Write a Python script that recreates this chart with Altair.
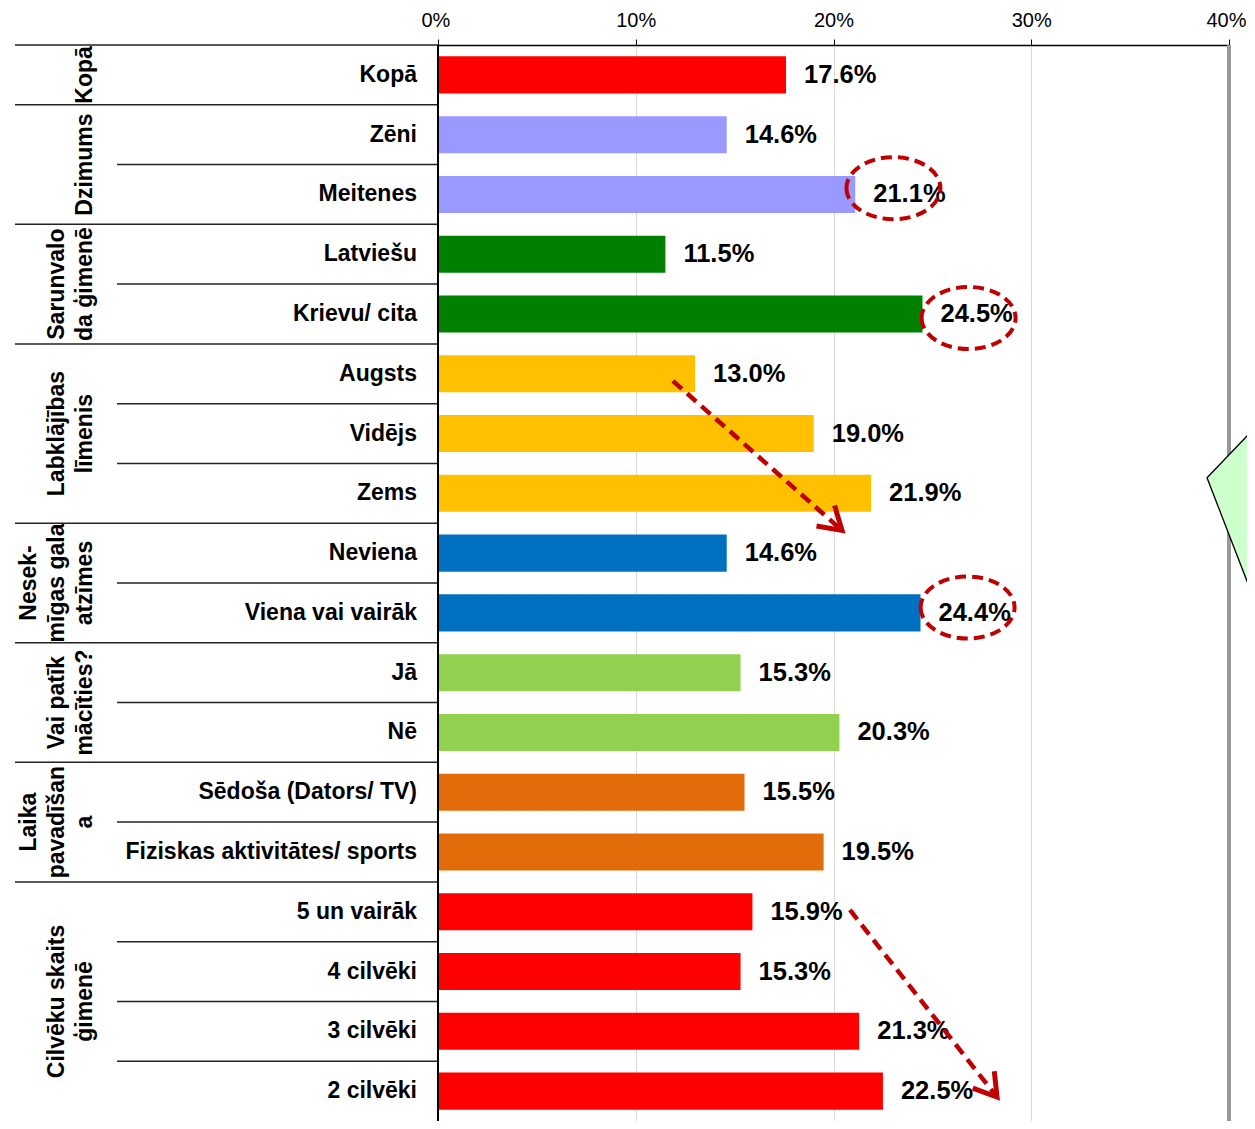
import altair as alt
import pandas as pd

# ---------------- data ----------------
categories = ["Kopā", "Zēni", "Meitenes", "Latviešu", "Krievu/ cita", "Augsts", "Vidējs", "Zems",
              "Neviena", "Viena vai vairāk", "Jā", "Nē", "Sēdoša (Dators/ TV)",
              "Fiziskas aktivitātes/ sports", "5 un vairāk", "4 cilvēki", "3 cilvēki", "2 cilvēki"]
values = [17.6, 14.6, 21.1, 11.5, 24.5, 13.0, 19.0, 21.9, 14.6, 24.4, 15.3, 20.3, 15.5, 19.5,
          15.9, 15.3, 21.3, 22.5]
group_of_row = [0, 1, 1, 2, 2, 3, 3, 3, 4, 4, 5, 5, 6, 6, 7, 7, 7, 7]
group_titles = [["Kopā"], ["Dzimums"], ["Sarunvalo", "da ģimenē"], ["Labklājības", "līmenis"],
                ["Nesek-", "mīgas gala", "atzīmes"], ["Vai patīk", "mācīties?"],
                ["Laika", "pavadīšan", "a"], ["Cilvēku skaits", "ģimenē"]]
group_colors = ["#FF0000", "#9999FF", "#008000", "#FFC000", "#0070C0", "#92D050", "#E36C0A", "#FF0000"]
x_ticks = [0, 10, 20, 30, 40]

# annotations (in data units: x in %, y in rows)
ellipse_x = [23.03, 26.83, 26.78]
ellipse_y = [2.395, 4.567, 9.41]
arrow_x0 = [11.88, 20.83]
arrow_y0 = [5.62, 14.47]
arrow_x1 = [20.43, 28.27]
arrow_y1 = [8.12, 17.60]
arrow_angle = [41.6, 52.1]
poly_x = [38.89, 42.5]
poly_ytop = [7.24, 5.99]
poly_ybot = [7.24, 10.33]

FONT = "Liberation Sans, Arial, sans-serif"
W, H = 791, 1076
NROWS = len(categories)
PX_PER_UNIT = W / 40.0

# ---------------- tables ----------------
bars = pd.DataFrame({
    "row": list(range(NROWS)),
    "cat": categories,
    "val": values,
    "color": [group_colors[g] for g in group_of_row],
})
bars["y0"] = bars["row"] + 0.19
bars["y1"] = bars["row"] + 0.81
bars["ym"] = bars["row"] + 0.5
bars["lbl"] = [f"{v:.1f}%" for v in values]

gl_rows = []
full_lines = [0]
for g, lines in enumerate(group_titles):
    rows = [i for i, gg in enumerate(group_of_row) if gg == g]
    start, end = rows[0], rows[-1] + 1
    full_lines.append(end)
    n = len(lines)
    for k, t in enumerate(lines):
        gl_rows.append({"text": t, "ym": (start + end) / 2,
                        "gx": (-353 - 28 * (n - 1 - k)) / PX_PER_UNIT})
glabels = pd.DataFrame(gl_rows)
partial_lines = [i for i in range(1, NROWS) if i not in full_lines]
full_df = pd.DataFrame({"y": [v for v in full_lines if v < NROWS]})
part_df = pd.DataFrame({"y": partial_lines})

ell_df = pd.DataFrame({"x": ellipse_x, "y": ellipse_y})
arr_df = pd.DataFrame({
    "id": [0, 0, 1, 1],
    "k": [0, 1, 0, 1],
    "x": [arrow_x0[0], arrow_x1[0], arrow_x0[1], arrow_x1[1]],
    "y": [arrow_y0[0], arrow_y1[0], arrow_y0[1], arrow_y1[1]],
})
head_df = pd.DataFrame({"x": arrow_x1, "y": arrow_y1, "ang": arrow_angle})
poly_df = pd.DataFrame({"x": poly_x, "y": poly_ytop, "y2": poly_ybot})

xs = alt.Scale(domain=[0, 40], nice=False, zero=True)
ys = alt.Scale(domain=[0, NROWS], reverse=True, nice=False, zero=False)
xaxis = alt.Axis(
    orient="top", values=x_ticks, labelExpr="datum.value + '%'", title=None,
    grid=True, gridColor="#D9D9D9", gridWidth=1,
    domainColor="#000000", domainWidth=1.5, tickColor="#000000", tickSize=6, tickWidth=1,
    labelFont="Liberation Sans Narrow, Arial Narrow, Liberation Sans", labelFontSize=20,
    labelColor="#000000", labelPadding=9, labelFlush=True, labelFlushOffset=17,
    labelOverlap=False)


def X(field):
    return alt.X(field, type="quantitative", scale=xs, axis=xaxis)


def Y(field):
    return alt.Y(field, type="quantitative", scale=ys, axis=None)


# ---------------- layers ----------------
bar_layer = alt.Chart(bars).mark_bar(cornerRadius=0).encode(
    x=X("val"), x2=alt.value(0), y=Y("y0"), y2="y1:Q",
    color=alt.Color("color:N", scale=None),
)

value_text = alt.Chart(bars).mark_text(
    align="left", baseline="middle", dx=18, font=FONT, fontSize=25.5, fontWeight="bold", color="#000000"
).encode(x=X("val"), y=Y("ym"), text="lbl:N")

cat_text = alt.Chart(bars).mark_text(
    align="right", baseline="middle", font=FONT, fontSize=23, fontWeight="bold", color="#000000"
).encode(x=alt.value(-21), y=Y("ym"), text="cat:N")

group_text = alt.Chart(glabels).mark_text(
    align="center", baseline="middle", angle=270, font=FONT, fontSize=23, fontWeight="bold", color="#000000"
).encode(x=X("gx"), y=Y("ym"), text="text:N")

full_rules = alt.Chart(full_df).mark_rule(color="#222222", strokeWidth=1.5).encode(
    x=alt.value(-423), x2=alt.value(0), y=Y("y"))
part_rules = alt.Chart(part_df).mark_rule(color="#222222", strokeWidth=1.5).encode(
    x=alt.value(-321), x2=alt.value(0), y=Y("y"))

y_axis_line = alt.Chart(bars).mark_rule(color="#000000", strokeWidth=2).encode(
    x=alt.value(0), y=alt.value(0), y2=alt.value(H))
right_line = alt.Chart(bars).mark_rule(color="#999999", strokeWidth=2.5).encode(
    x=alt.value(W), y=alt.value(0), y2=alt.value(H))

ellipses = alt.Chart(ell_df).mark_point(
    shape="M -1 0 A 1 0.66 0 1 0 1 0 A 1 0.66 0 1 0 -1 0 Z", filled=False, size=94 * 94,
    stroke="#C00000", strokeWidth=4, strokeDash=[11, 6], opacity=1
).encode(x=X("x"), y=Y("y"))

arrows = alt.Chart(arr_df).mark_line(
    color="#C00000", strokeWidth=4.5, strokeDash=[12, 7]
).encode(x=X("x"), y=Y("y"), detail="id:N", order="k:Q")

heads = alt.Chart(head_df).mark_point(
    shape="M -1 -0.62 L 0 0 L -1 0.62", filled=False, size=44 * 44,
    stroke="#C00000", strokeWidth=5, opacity=1, strokeJoin="miter"
).encode(x=X("x"), y=Y("y"), angle=alt.Angle("ang:Q", scale=None))

poly = alt.Chart(poly_df).mark_area(
    fill="#CCFFCC", stroke="#000000", strokeWidth=1.3, clip=False, opacity=1
).encode(x=X("x"), y=Y("y"), y2="y2:Q")

chart = alt.layer(
    bar_layer, value_text, cat_text, group_text, full_rules, part_rules,
    y_axis_line, right_line, arrows, heads, ellipses, poly
).properties(
    width=W, height=H,
    autosize=alt.AutoSizeParams(type="none"),
    padding={"left": 430, "top": 37, "right": 18, "bottom": 0},
    background="#FFFFFF",
).configure_view(stroke=None).configure_text(font=FONT)

chart.save("out.html", embed_options={"renderer": "svg", "actions": False})
